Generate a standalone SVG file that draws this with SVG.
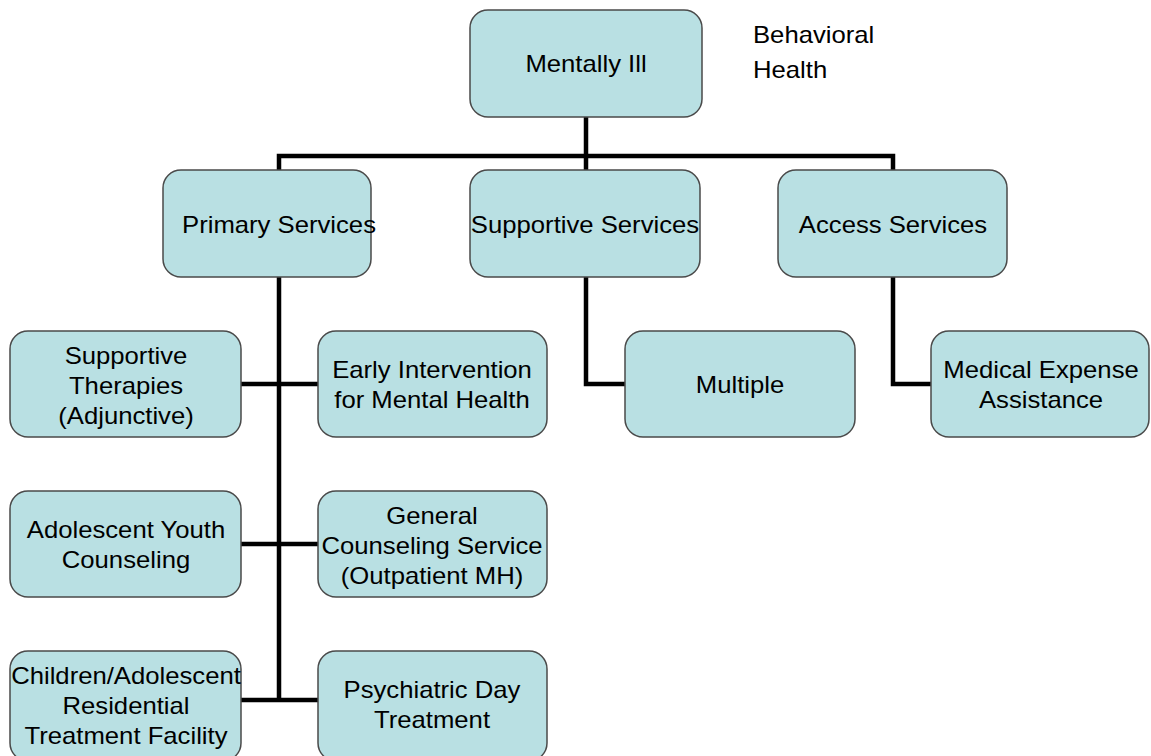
<svg xmlns="http://www.w3.org/2000/svg" width="1151" height="756" viewBox="0 0 1151 756">
<style>
.box{fill:#B9E0E3;stroke:#4a4a4a;stroke-width:1.5}
.t{font-family:"Liberation Sans",Arial,sans-serif;font-size:24px;fill:#000;text-anchor:middle}
.l{font-family:"Liberation Sans",Arial,sans-serif;font-size:24px;fill:#000}
.c{fill:none;stroke:#000;stroke-width:4.5;stroke-linecap:square}
</style>
<rect width="1151" height="756" fill="#fff"/>
<g id="connectors">
<path class="c" d="M586 117V156M279 170V156H893V170M586 156V170"/>
<path class="c" d="M279 277V700M241 384H318M241 544H318M241 700H318"/>
<path class="c" d="M586 277V384H625M893 277V384H931"/>
</g>
<g id="n-mentally"><rect class="box" x="470" y="10" width="232" height="107" rx="18"/><text class="t" transform="translate(586 0) scale(1.07 1)" y="72">Mentally Ill</text></g>
<g id="n-behavioral"><text class="l" transform="translate(753 0) scale(1.07 1)" y="43">Behavioral</text><text class="l" transform="translate(753 0) scale(1.07 1)" y="78">Health</text></g>
<g id="n-primary"><rect class="box" x="163" y="170" width="208" height="107" rx="18"/><text class="t" transform="translate(279 0) scale(1.07 1)" y="233">Primary Services</text></g>
<g id="n-supportive"><rect class="box" x="470" y="170" width="230" height="107" rx="18"/><text class="t" transform="translate(585 0) scale(1.07 1)" y="233">Supportive Services</text></g>
<g id="n-access"><rect class="box" x="778" y="170" width="229" height="107" rx="18"/><text class="t" transform="translate(893 0) scale(1.07 1)" y="233">Access Services</text></g>
<g id="n-therapies"><rect class="box" x="10" y="331" width="231" height="106" rx="18"/><text class="t" transform="translate(126 0) scale(1.07 1)" y="364">Supportive</text><text class="t" transform="translate(126 0) scale(1.07 1)" y="394">Therapies</text><text class="t" transform="translate(126 0) scale(1.07 1)" y="424">(Adjunctive)</text></g>
<g id="n-early"><rect class="box" x="318" y="331" width="229" height="106" rx="18"/><text class="t" transform="translate(432 0) scale(1.07 1)" y="378">Early Intervention</text><text class="t" transform="translate(432 0) scale(1.07 1)" y="408">for Mental Health</text></g>
<g id="n-multiple"><rect class="box" x="625" y="331" width="230" height="106" rx="18"/><text class="t" transform="translate(740 0) scale(1.07 1)" y="393">Multiple</text></g>
<g id="n-medical"><rect class="box" x="931" y="331" width="218" height="106" rx="18"/><text class="t" transform="translate(1041 0) scale(1.07 1)" y="378">Medical Expense</text><text class="t" transform="translate(1041 0) scale(1.07 1)" y="408">Assistance</text></g>
<g id="n-adolescent"><rect class="box" x="10" y="491" width="231" height="106" rx="18"/><text class="t" transform="translate(126 0) scale(1.07 1)" y="538">Adolescent Youth</text><text class="t" transform="translate(126 0) scale(1.07 1)" y="568">Counseling</text></g>
<g id="n-general"><rect class="box" x="318" y="491" width="229" height="106" rx="18"/><text class="t" transform="translate(432 0) scale(1.07 1)" y="524">General</text><text class="t" transform="translate(432 0) scale(1.07 1)" y="554">Counseling Service</text><text class="t" transform="translate(432 0) scale(1.07 1)" y="584">(Outpatient MH)</text></g>
<g id="n-children"><rect class="box" x="10" y="651" width="231" height="110" rx="18"/><text class="t" transform="translate(126 0) scale(1.07 1)" y="684">Children/Adolescent</text><text class="t" transform="translate(126 0) scale(1.07 1)" y="714">Residential</text><text class="t" transform="translate(126 0) scale(1.07 1)" y="744">Treatment Facility</text></g>
<g id="n-psychiatric"><rect class="box" x="318" y="651" width="229" height="110" rx="18"/><text class="t" transform="translate(432 0) scale(1.07 1)" y="698">Psychiatric Day</text><text class="t" transform="translate(432 0) scale(1.07 1)" y="728">Treatment</text></g>
</svg>
